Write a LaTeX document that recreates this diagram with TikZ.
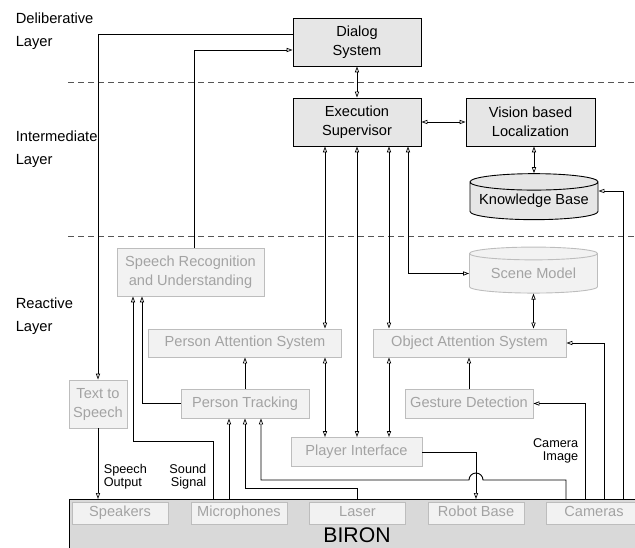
\documentclass[tikz,border=0pt]{standalone}
\usepackage{fontspec}
\setmainfont{Liberation Sans}
\usetikzlibrary{shapes.geometric, arrows.meta}
\definecolor{boxfill}{HTML}{E6E6E6}
\definecolor{palefill}{HTML}{F2F2F2}
\definecolor{paleline}{HTML}{BDBDBD}
\definecolor{paletext}{HTML}{A3A3A3}
\definecolor{bironfill}{HTML}{D9D9D9}
\definecolor{layerdash}{HTML}{555555}
\begin{document}
\begin{tikzpicture}[x=1pt,y=-1pt,line width=0.9pt,
  font=\fontsize{14.6}{19}\selectfont,
  >={Triangle[open,length=6pt,width=4.2pt,line width=0.7pt]},
  block/.style={draw=black,fill=boxfill,align=center,inner sep=0pt},
  weakblock/.style={draw=paleline,fill=palefill,text=paletext,align=center,inner sep=0pt},
  oneline/.style={text height=10.5pt,text depth=3pt},
  hwpart/.style={weakblock,oneline,minimum width=96pt,minimum height=22pt},
  store/.style={cylinder,shape border rotate=90,aspect=0.15,inner sep=0pt,minimum width=128pt,minimum height=46pt},
  sidelabel/.style={anchor=west,align=left,font=\fontsize{14.7}{22.5}\selectfont},
  sigtext/.style={font=\fontsize{12.7}{13}\selectfont},
  layerline/.style={draw=layerdash,line width=0.8pt,dash pattern=on 6pt off 4pt}]
\useasboundingbox (0,0) rectangle (635,548);
\node[sidelabel] (dellbl) at (12,31) {Deliberative\\Layer};
\node[sidelabel] (intlbl) at (12,149) {Intermediate\\Layer};
\node[sidelabel] (reactlbl) at (12,316) {Reactive\\Layer};
\draw[layerline] (68,82) -- (635,82);
\draw[layerline] (68,236) -- (635,236);
\node[block,minimum width=128pt,minimum height=48pt] (dialog) at (357,42) {Dialog\\System};
\node[block,minimum width=128pt,minimum height=48pt] (exec) at (357,122) {Execution\\Supervisor};
\node[block,minimum width=129pt,minimum height=48pt] (vision) at (530.5,122) {Vision based\\Localization};
\node[store,draw=black,fill=boxfill] (kb) at (534,201) {Knowledge Base};
\node[store,draw=paleline,fill=palefill,text=paletext] (sm) at (533.5,273.5) {Scene Model};
\node[weakblock,minimum width=147pt,minimum height=48pt] (sr) at (190.5,272) {Speech Recognition\\and Understanding};
\node[weakblock,oneline,minimum width=193pt,minimum height=28pt] (pas) at (245,343) {Person Attention System};
\node[weakblock,oneline,minimum width=193pt,minimum height=28pt] (oas) at (469.5,343) {Object Attention System};
\node[weakblock,oneline,minimum width=128pt,minimum height=29pt] (pt) at (245,403.5) {Person Tracking};
\node[weakblock,oneline,minimum width=128pt,minimum height=29pt] (gd) at (469,403.5) {Gesture Detection};
\node[weakblock,oneline,minimum width=131pt,minimum height=29pt] (pi) at (356.5,452) {Player Interface};
\node[weakblock,minimum width=58pt,minimum height=48pt] (tts) at (98,404) {Text to\\Speech};
\node[draw=black,fill=bironfill,minimum width=600pt,minimum height=70pt,anchor=north west,inner sep=0pt] (biron) at (69,499) {};
\node[font=\fontsize{21.2}{24}\selectfont] (bironlbl) at (357,535) {BIRON};
\node[hwpart] (spk) at (120,513) {Speakers};
\node[hwpart] (mic) at (239,513) {Microphones};
\node[hwpart] (laser) at (357.5,513) {Laser};
\node[hwpart] (rb) at (476,513) {Robot Base};
\node[hwpart] (cam) at (594,513) {Cameras};
\node[sigtext,anchor=west,align=left] (spout) at (100,477) {Speech\\Output};
\node[sigtext,anchor=east,align=right] (sndsig) at (210,477) {Sound\\Signal};
\node[sigtext,anchor=east,align=right] (camimg) at (582,451) {Camera\\Image};
\draw[->] ([yshift=8pt]dialog.west) -| (tts.north);
\draw[->] (sr.north -| 194,0) |- ([yshift=-8pt]dialog.west);
\draw[<->] (dialog) -- (exec);
\draw[<->] (exec) -- (vision);
\draw[<->] (kb.north |- vision.south) -- (kb.north);
\draw[->] (tts) -- (tts |- biron.north);
\draw[->] (pt.west) -| (sr.south -| 142,0);
\draw[->] (biron.north -| 213,0) -- (213,441) -| (sr.south -| 133,0);
\draw[->] (biron.north -| 229,0) -- (pt.south -| 229,0);
\draw[->] (biron.north -| 357,0) -- (357,488) -| (pt.south);
\draw[->] (biron.north -| 566,0) -- (566,480) -- (483,480) arc[start angle=0,end angle=180,radius=7pt] -- (261,480) -- (pt.south -| 261,0);
\draw[->] (pi.east) -| (biron.north -| rb.north);
\draw[->] (pt) -- (pas);
\draw[<->] (exec.south -| 325,0) -- (pas.north -| 325,0);
\draw[<->] (pas.south -| 325,0) -- (pi.north -| 325,0);
\draw[<->] (exec.south -| 357,0) -- (pi.north -| 357,0);
\draw[<->] (exec.south -| 389,0) -- (oas.north -| 389,0);
\draw[<->] (oas.south -| 389,0) -- (pi.north -| 389,0);
\draw[<->] (exec.south -| 408,0) |- (sm.west);
\draw[<->] (sm.south) -- (oas.north -| sm.south);
\draw[->] (gd.north) -- (oas.south -| gd.north);
\draw[->] (biron.north -| 585,0) |- (gd.east);
\draw[->] (biron.north -| 604,0) |- (oas.east);
\draw[->] (biron.north -| 623,0) |- ([yshift=10pt]kb.east);
\end{tikzpicture}
\end{document}
